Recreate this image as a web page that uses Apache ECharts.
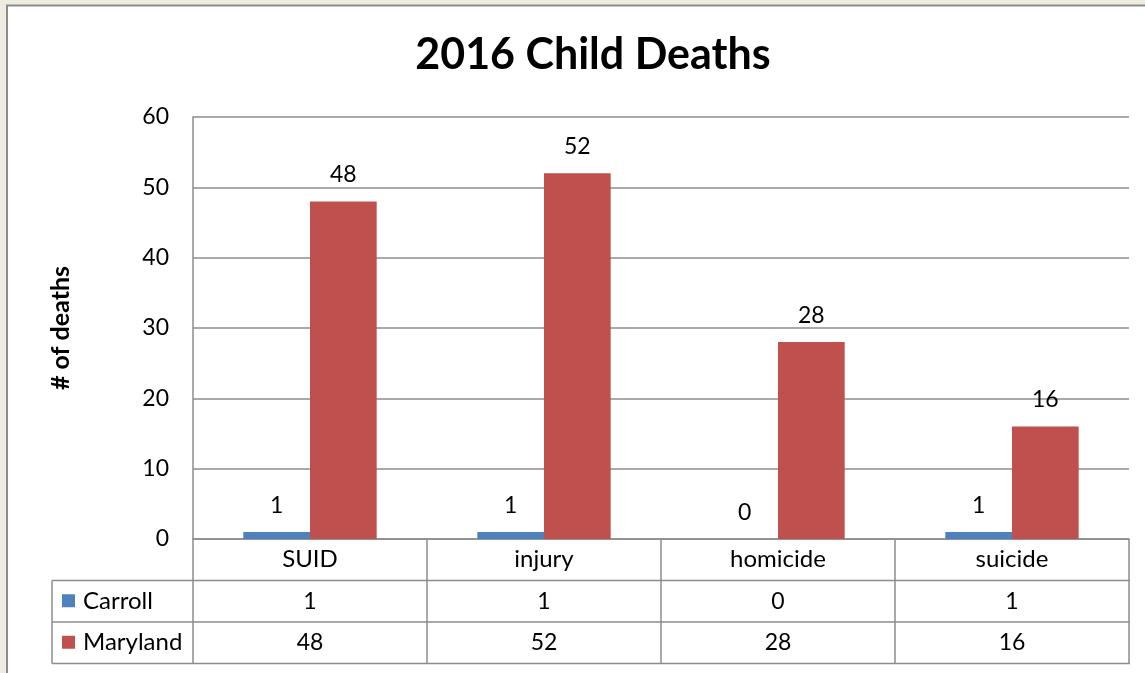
<!DOCTYPE html>
<html>
<head>
<meta charset="utf-8">
<script src="https://cdn.jsdelivr.net/npm/echarts@6/dist/echarts.min.js"></script>
<style>
  html, body { margin: 0; padding: 0; background: #ffffff; }
  #chart { width: 1145px; height: 673px; }
</style>
</head>
<body>
<div id="chart"></div>
<script>
// 2016 child deaths by cause, Carroll County vs. Maryland
const categories = ['SUID', 'injury', 'homicide', 'suicide'];
const carroll = [1, 1, 0, 1];
const maryland = [48, 52, 28, 16];
const seriesNames = ['Carroll', 'Maryland'];
const yMin = 0, yMax = 60, yStep = 10;

const FONT = 'Lato, "Open Sans", sans-serif';
const COLORS = ['#4F81BD', '#C0504D'];
const GRID_LINE = '#8c8c8c';
const NUM_SIZE = 23;
const WORD_SIZE = 24;

// layout of the plot and the data table below it
const G = { left: 193, right: 16, top: 117, bottom: 134 };
const W = 1145, H = 673;
const rowH = 41.5;
const tableLeft = 52;

const chart = echarts.init(document.getElementById('chart'), null, { renderer: 'canvas' });

const valueLabel = {
  show: true, position: 'top', distance: 15,
  fontFamily: FONT, fontSize: NUM_SIZE, color: '#000'
};

chart.setOption({
  backgroundColor: '#ffffff',
  animation: false,
  title: {
    text: '2016 Child Deaths', left: 588, textAlign: 'center', top: 29,
    textStyle: { fontFamily: FONT, fontSize: 43, fontWeight: 'bold', color: '#000' }
  },
  grid: { left: G.left, right: G.right, top: G.top, bottom: G.bottom, containLabel: false },
  xAxis: {
    type: 'category', data: categories,
    axisLine: { lineStyle: { color: GRID_LINE, width: 1.5 } },
    axisTick: { show: true, length: rowH * 3, interval: 0, lineStyle: { color: GRID_LINE, width: 1.5 } },
    axisLabel: { margin: 8, fontFamily: FONT, fontSize: WORD_SIZE, color: '#000', interval: 0 }
  },
  yAxis: {
    type: 'value', min: yMin, max: yMax, interval: yStep,
    name: '# of deaths', nameLocation: 'middle', nameGap: 120,
    nameTextStyle: { fontFamily: FONT, fontSize: 25, fontWeight: 'bold', color: '#000' },
    axisLine: { show: true, lineStyle: { color: GRID_LINE, width: 1.5 } },
    axisTick: { show: false },
    axisLabel: { margin: 24, fontFamily: FONT, fontSize: NUM_SIZE, color: '#000' },
    splitLine: { lineStyle: { color: GRID_LINE, width: 1.5 } }
  },
  series: [
    {
      name: seriesNames[0], type: 'bar', data: carroll,
      barGap: '0%', barCategoryGap: '43%',
      itemStyle: { color: COLORS[0] },
      label: valueLabel
    },
    {
      name: seriesNames[1], type: 'bar', data: maryland,
      barGap: '0%', barCategoryGap: '43%',
      itemStyle: { color: COLORS[1] },
      label: valueLabel
    }
  ]
});

// frame around the chart area and the data table
function buildGraphics() {
  const els = [];
  const axisY = H - G.bottom;
  const plotRight = W - G.right;

  // window frame at top and left
  els.push({ type: 'rect', shape: { x: 0, y: 0, width: W, height: 5 }, style: { fill: '#EEECE1' }, silent: true });
  els.push({ type: 'rect', shape: { x: 0, y: 0, width: 6, height: H }, style: { fill: '#EEECE1' }, silent: true });
  els.push({ type: 'line', shape: { x1: 6, y1: 5.5, x2: W, y2: 5.5 }, style: { stroke: '#8c8c8c', lineWidth: 2 }, silent: true });
  els.push({ type: 'line', shape: { x1: 7, y1: 5, x2: 7, y2: H }, style: { stroke: '#8c8c8c', lineWidth: 2 }, silent: true });

  // table rows
  const rowLines = [axisY + rowH, axisY + rowH * 2, axisY + rowH * 3];
  rowLines.forEach(function (y) {
    els.push({ type: 'line', shape: { x1: tableLeft, y1: y, x2: plotRight + 1, y2: y },
      style: { stroke: GRID_LINE, lineWidth: 1.5 }, silent: true });
  });
  els.push({ type: 'line', shape: { x1: tableLeft, y1: axisY + rowH, x2: tableLeft, y2: axisY + rowH * 3 },
    style: { stroke: GRID_LINE, lineWidth: 1.5 }, silent: true });

  const rows = [carroll, maryland];
  rows.forEach(function (vals, r) {
    const cy = axisY + rowH * (r + 1.5);
    // legend key and series name
    els.push({ type: 'rect', shape: { x: 62, y: cy - 7, width: 13, height: 13 },
      style: { fill: COLORS[r] }, silent: true });
    els.push({ type: 'text', x: 83, y: cy,
      style: { text: seriesNames[r], fontFamily: FONT, fontSize: WORD_SIZE, fill: '#000',
        textAlign: 'left', textVerticalAlign: 'middle' }, silent: true });
    vals.forEach(function (v, i) {
      const cx = chart.convertToPixel({ xAxisIndex: 0 }, categories[i]);
      els.push({ type: 'text', x: cx, y: cy,
        style: { text: String(v), fontFamily: FONT, fontSize: NUM_SIZE, fill: '#000',
          textAlign: 'center', textVerticalAlign: 'middle' }, silent: true });
    });
  });
  return els;
}

chart.setOption({ graphic: { elements: buildGraphics() } });
</script>
</body>
</html>
